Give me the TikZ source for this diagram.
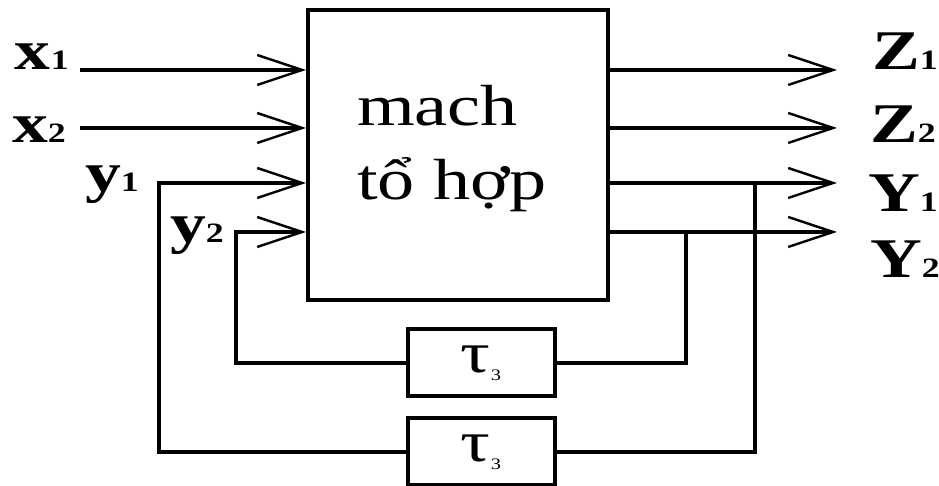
\documentclass[tikz,border=0pt]{standalone}
\usepackage{fontspec}
\setmainfont{Liberation Serif}[FakeStretch=1.28]
\usetikzlibrary{arrows.meta,positioning}
\newcommand{\sigidx}[1]{{\fontsize{14}{14}\selectfont #1}}

\begin{document}
\begin{tikzpicture}[
x=0.5pt,
y=-0.5pt,
line width=2pt,
every node/.style={inner sep=0pt},
block/.style={rectangle,draw,line width=2pt,minimum width=150pt,minimum height=145pt},
delay/.style={rectangle,draw,line width=2pt,minimum width=73.5pt,minimum height=33.5pt,font=\fontsize{29}{29}\selectfont},
sig/.style={anchor=base west,font=\fontsize{28}{28}\selectfont\bfseries},
arr/.style={-{Straight Barb[length=22.5pt,width=15pt,line width=1.2pt]}}
]
\useasboundingbox (0,0) rectangle (939,486);
\node[block] (mach) at (458,155) {};
\node[align=left,anchor=base west,font=\fontsize{29}{37}\selectfont] (machtxt) at (355,200) {mach\\tổ hợp};
\node[delay] (tauA) at (481,363) {τ\raisebox{-4pt}{\fontsize{8}{8}\selectfont 3}};
\node[delay] (tauB) at (481,452) {τ\raisebox{-4pt}{\fontsize{8}{8}\selectfont 3}};

% inputs
\node[sig] (x1) at (13,70) {x\sigidx{1}};
\node[sig] (x2) at (10,143) {x\sigidx{2}};
\node[sig] (y1) at (83,192) {y\sigidx{1}};
\node[sig] (y2) at (168,243) {y\sigidx{2}};
\coordinate (x1s) at (80,70);
\coordinate (x2s) at (80,128);
\coordinate (y1c) at (159,183);
\coordinate (y2c) at (236,232);

% outputs
\node[sig] (Z1) at (870,70) {Z\sigidx{1}};
\node[sig] (Z2) at (868,143) {Z\sigidx{2}};
\node[sig] (Y1) at (866,212) {Y\sigidx{1}};
\node[sig] (Y2) at (868,278) {Y\sigidx{2}};
\coordinate (Z1e) at (837,70);
\coordinate (Z2e) at (837,128);
\coordinate (Y1e) at (837,183);
\coordinate (Y2e) at (837,232);
\coordinate (Y1b) at (755,183);
\coordinate (Y2b) at (686,232);

\draw[arr] (x1s) -- (mach.west |- x1s);
\draw[arr] (x2s) -- (mach.west |- x2s);
\draw[arr] (tauB.west) -| (y1c) -- (mach.west |- y1c);
\draw[arr] (tauA.west) -| (y2c) -- (mach.west |- y2c);
\draw[arr] (mach.east |- Z1e) -- (Z1e);
\draw[arr] (mach.east |- Z2e) -- (Z2e);
\draw[arr] (mach.east |- Y1e) -- (Y1e);
\draw[arr] (mach.east |- Y2e) -- (Y2e);
\draw (Y1b) |- (tauB.east);
\draw (Y2b) |- (tauA.east);
\end{tikzpicture}
\end{document}
